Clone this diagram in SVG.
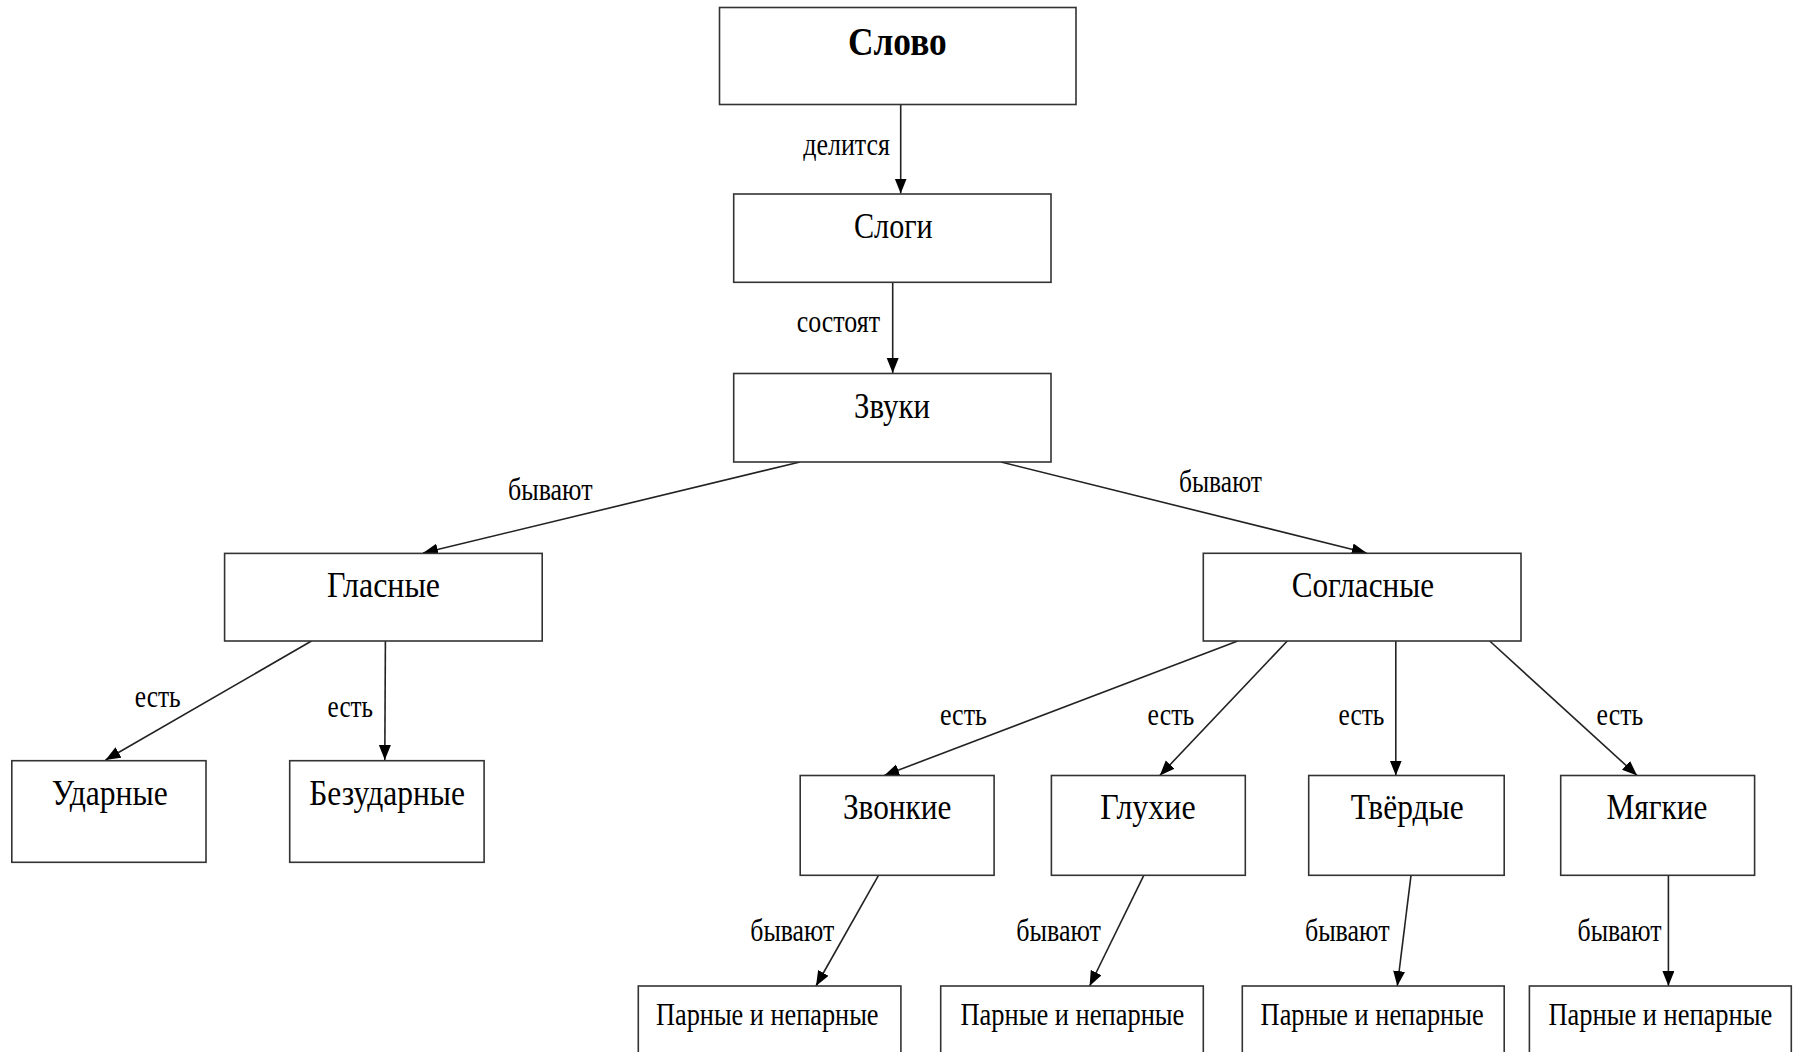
<svg xmlns="http://www.w3.org/2000/svg" width="1797" height="1052" viewBox="0 0 1797 1052">
<style>
.box{fill:#fff;stroke:#333;stroke-width:1.6}
.t{font-family:"Liberation Serif","Times New Roman",serif;font-size:35px;fill:#000}
.b{font-weight:bold;font-size:41px}
.lbl{font-family:"Liberation Serif","Times New Roman",serif;font-size:32px;fill:#000}
.sm{font-size:31px}
.e{stroke:#222;stroke-width:1.6;fill:none;marker-end:url(#ah)}
</style>
<defs>
<marker id="ah" markerUnits="userSpaceOnUse" markerWidth="16" markerHeight="13" refX="15" refY="6" orient="auto">
<path d="M0,0 L15,6 L0,12 z" fill="#000"/>
</marker>
</defs>
<rect width="1797" height="1052" fill="#fff"/>
<g id="connectors">
<line class="e" x1="900.7" y1="104.3" x2="900.7" y2="193.5"/>
<line class="e" x1="892.7" y1="282.3" x2="892.7" y2="373"/>
<line class="e" x1="800" y1="462" x2="423" y2="553"/>
<line class="e" x1="1001" y1="462" x2="1366.7" y2="553"/>
<line class="e" x1="311.5" y1="641" x2="105.5" y2="760"/>
<line class="e" x1="385.4" y1="641" x2="384.8" y2="760"/>
<line class="e" x1="1237.7" y1="641" x2="884.2" y2="775.5"/>
<line class="e" x1="1287.3" y1="641" x2="1159.8" y2="775.5"/>
<line class="e" x1="1395.8" y1="641" x2="1395.8" y2="775.5"/>
<line class="e" x1="1489.7" y1="641" x2="1637.1" y2="775.5"/>
<line class="e" x1="878.5" y1="875.3" x2="816" y2="986"/>
<line class="e" x1="1143.8" y1="875.3" x2="1089.6" y2="986"/>
<line class="e" x1="1411" y1="875.3" x2="1397.3" y2="986"/>
<line class="e" x1="1668.4" y1="875.3" x2="1668.4" y2="986"/>
<text class="lbl" x="803.3" y="155" textLength="86.7" lengthAdjust="spacingAndGlyphs">делится</text>
<text class="lbl" x="796.7" y="331.7" textLength="83.3" lengthAdjust="spacingAndGlyphs">состоят</text>
<text class="lbl" x="508" y="500" textLength="84.5" lengthAdjust="spacingAndGlyphs">бывают</text>
<text class="lbl" x="1179" y="492" textLength="83" lengthAdjust="spacingAndGlyphs">бывают</text>
<text class="lbl" x="134.7" y="707" textLength="46" lengthAdjust="spacingAndGlyphs">есть</text>
<text class="lbl" x="327.6" y="716.7" textLength="45.4" lengthAdjust="spacingAndGlyphs">есть</text>
<text class="lbl" x="939.9" y="725" textLength="47" lengthAdjust="spacingAndGlyphs">есть</text>
<text class="lbl" x="1147.6" y="725" textLength="46.6" lengthAdjust="spacingAndGlyphs">есть</text>
<text class="lbl" x="1338.5" y="725" textLength="45.8" lengthAdjust="spacingAndGlyphs">есть</text>
<text class="lbl" x="1596.6" y="725" textLength="46.6" lengthAdjust="spacingAndGlyphs">есть</text>
<text class="lbl" x="750.3" y="941" textLength="84" lengthAdjust="spacingAndGlyphs">бывают</text>
<text class="lbl" x="1016.3" y="941" textLength="84.7" lengthAdjust="spacingAndGlyphs">бывают</text>
<text class="lbl" x="1304.9" y="941" textLength="84.7" lengthAdjust="spacingAndGlyphs">бывают</text>
<text class="lbl" x="1577.5" y="941" textLength="84" lengthAdjust="spacingAndGlyphs">бывают</text>
</g>
<g id="n-slovo"><rect class="box" x="719.5" y="7.5" width="356.5" height="97"/><text class="t b" x="848" y="55" textLength="98.7" lengthAdjust="spacingAndGlyphs">Слово</text></g>
<g id="n-slogi"><rect class="box" x="733.7" y="194" width="317.3" height="88.3"/><text class="t" x="854" y="238.3" textLength="78.7" lengthAdjust="spacingAndGlyphs">Слоги</text></g>
<g id="n-zvuki"><rect class="box" x="733.7" y="373.5" width="317.3" height="88.5"/><text class="t" x="854" y="418" textLength="76" lengthAdjust="spacingAndGlyphs">Звуки</text></g>
<g id="n-glasnye"><rect class="box" x="224.6" y="553.4" width="317.6" height="87.6"/><text class="t" x="327" y="597" textLength="113" lengthAdjust="spacingAndGlyphs">Гласные</text></g>
<g id="n-soglasnye"><rect class="box" x="1203.3" y="553.3" width="317.7" height="87.7"/><text class="t" x="1291.7" y="596.7" textLength="142.3" lengthAdjust="spacingAndGlyphs">Согласные</text></g>
<g id="n-udarnye"><rect class="box" x="11.8" y="760.7" width="194.2" height="101.6"/><text class="t" x="51.7" y="805" textLength="116" lengthAdjust="spacingAndGlyphs">Ударные</text></g>
<g id="n-bezudarnye"><rect class="box" x="289.7" y="760.7" width="194.4" height="101.6"/><text class="t" x="309.2" y="805" textLength="155.8" lengthAdjust="spacingAndGlyphs">Безударные</text></g>
<g id="n-zvonkie"><rect class="box" x="800.2" y="775.5" width="193.9" height="99.8"/><text class="t" x="842.9" y="819" textLength="108.5" lengthAdjust="spacingAndGlyphs">Звонкие</text></g>
<g id="n-gluhie"><rect class="box" x="1051.4" y="775.5" width="193.9" height="99.8"/><text class="t" x="1100.3" y="819" textLength="95.4" lengthAdjust="spacingAndGlyphs">Глухие</text></g>
<g id="n-tverdye"><rect class="box" x="1308.7" y="775.5" width="195.5" height="99.8"/><text class="t" x="1350.7" y="819" textLength="113" lengthAdjust="spacingAndGlyphs">Твёрдые</text></g>
<g id="n-myagkie"><rect class="box" x="1560.7" y="775.5" width="193.9" height="99.8"/><text class="t" x="1606.5" y="819" textLength="100.8" lengthAdjust="spacingAndGlyphs">Мягкие</text></g>
<g id="n-parnye1"><rect class="box" x="638.3" y="986" width="262.6" height="80"/><text class="t sm" x="656" y="1025" textLength="222.5" lengthAdjust="spacingAndGlyphs">Парные и непарные</text></g>
<g id="n-parnye2"><rect class="box" x="940.7" y="986" width="262.6" height="80"/><text class="t sm" x="960.5" y="1025" textLength="223.8" lengthAdjust="spacingAndGlyphs">Парные и непарные</text></g>
<g id="n-parnye3"><rect class="box" x="1242.3" y="986" width="261.9" height="80"/><text class="t sm" x="1260.6" y="1025" textLength="223" lengthAdjust="spacingAndGlyphs">Парные и непарные</text></g>
<g id="n-parnye4"><rect class="box" x="1529.4" y="986" width="261.9" height="80"/><text class="t sm" x="1548.5" y="1025" textLength="223.7" lengthAdjust="spacingAndGlyphs">Парные и непарные</text></g>
</svg>
